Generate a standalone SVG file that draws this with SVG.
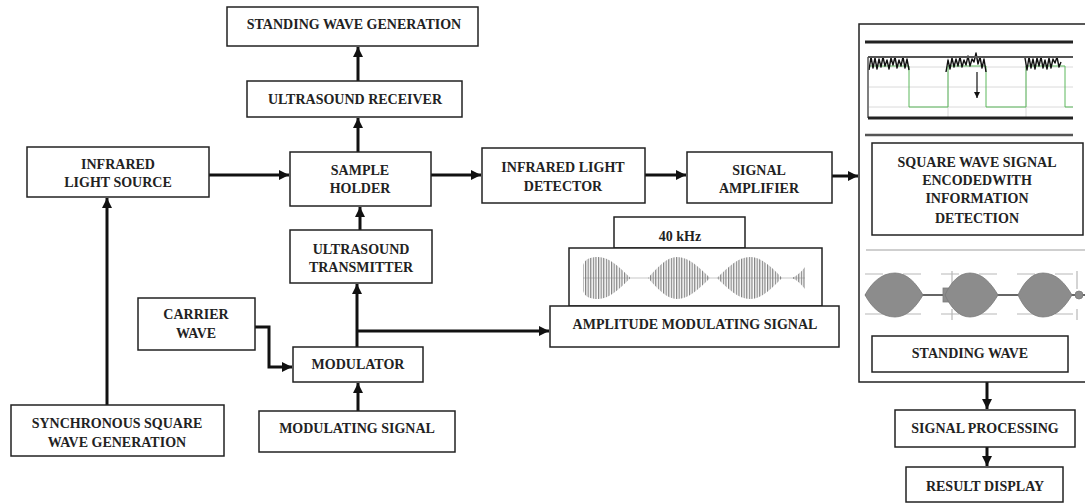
<svg xmlns="http://www.w3.org/2000/svg" width="1085" height="503" viewBox="0 0 1085 503">
<defs>
<style>
.box{fill:#fff;stroke:#222;stroke-width:1.5}
.t{font-family:"Liberation Serif","Times New Roman",serif;font-weight:bold;font-size:14px;fill:#222;text-anchor:middle}
.c{fill:none;stroke:#111;stroke-width:3}
.grid{stroke:#d0d0d0;stroke-width:0.8;fill:none}
.dash{stroke:#b8b8b8;stroke-width:1.2;fill:none;stroke-dasharray:18 20}
.noise{fill:none;stroke:#111;stroke-width:1.4;stroke-linejoin:round}
</style>
<marker id="ah" viewBox="0 0 10 10" refX="10" refY="5" markerWidth="11" markerHeight="10" markerUnits="userSpaceOnUse" orient="auto">
<path d="M0,0 L10,5 L0,10 z" fill="#111"/>
</marker>
<marker id="ahs" viewBox="0 0 10 10" refX="10" refY="5" markerWidth="6" markerHeight="6" markerUnits="userSpaceOnUse" orient="auto">
<path d="M0,0 L10,5 L0,10 z" fill="#111"/>
</marker>
<pattern id="stripes" patternUnits="userSpaceOnUse" width="2.6" height="10">
<rect x="0" y="0" width="1.2" height="10" fill="#808080"/>
</pattern>
</defs>
<rect width="1085" height="503" fill="#fff"/>

<g id="connectors">
<path class="c" d="M209,175 H289" marker-end="url(#ah)"/>
<path class="c" d="M107,405 V198" marker-end="url(#ah)"/>
<path class="c" d="M358,152 V118" marker-end="url(#ah)"/>
<path class="c" d="M358,81 V47" marker-end="url(#ah)"/>
<path class="c" d="M360,230 V207" marker-end="url(#ah)"/>
<path class="c" d="M357,347 V284" marker-end="url(#ah)"/>
<path class="c" d="M357,331 H549" marker-end="url(#ah)"/>
<path class="c" d="M358,411 V383" marker-end="url(#ah)"/>
<path class="c" d="M255,327 H269 V367 H292" marker-end="url(#ah)"/>
<path class="c" d="M431,175 H481" marker-end="url(#ah)"/>
<path class="c" d="M645,175 H686" marker-end="url(#ah)"/>
<path class="c" d="M832,176 H858" marker-end="url(#ah)"/>
<path class="c" d="M987,382 V409" marker-end="url(#ah)"/>
<path class="c" d="M987,447 V466" marker-end="url(#ah)"/>
</g>

<g id="standing-wave-generation">
<rect class="box" x="227" y="7" width="251" height="39"/>
<text class="t" x="354" y="29">STANDING WAVE GENERATION</text>
</g>
<g id="ultrasound-receiver">
<rect class="box" x="247" y="81" width="215" height="36"/>
<text class="t" x="355" y="104">ULTRASOUND RECEIVER</text>
</g>
<g id="infrared-light-source">
<rect class="box" x="27" y="147" width="182" height="50"/>
<text class="t" x="118" y="168.5">INFRARED</text>
<text class="t" x="118" y="186.5">LIGHT SOURCE</text>
</g>
<g id="sample-holder">
<rect class="box" x="290" y="152" width="141" height="54"/>
<text class="t" x="360" y="174.5">SAMPLE</text>
<text class="t" x="360" y="192.5">HOLDER</text>
</g>
<g id="ultrasound-transmitter">
<rect class="box" x="290" y="230" width="142" height="53"/>
<text class="t" x="361" y="253.5">ULTRASOUND</text>
<text class="t" x="361" y="271.5">TRANSMITTER</text>
</g>
<g id="infrared-light-detector">
<rect class="box" x="482" y="148" width="163" height="55"/>
<text class="t" x="563" y="171.5">INFRARED LIGHT</text>
<text class="t" x="563" y="190.5">DETECTOR</text>
</g>
<g id="signal-amplifier">
<rect class="box" x="687" y="152" width="145" height="51"/>
<text class="t" x="759" y="174.5">SIGNAL</text>
<text class="t" x="759" y="192.5">AMPLIFIER</text>
</g>
<g id="carrier-wave">
<rect class="box" x="138" y="298" width="117" height="52"/>
<text class="t" x="196" y="318.5">CARRIER</text>
<text class="t" x="196" y="337.5">WAVE</text>
</g>
<g id="modulator">
<rect class="box" x="293" y="347" width="130" height="35"/>
<text class="t" x="358" y="368.5">MODULATOR</text>
</g>
<g id="modulating-signal">
<rect class="box" x="259" y="411" width="196" height="41"/>
<text class="t" x="357" y="432.5">MODULATING SIGNAL</text>
</g>
<g id="synchronous-square-wave-generation">
<rect class="box" x="11" y="405" width="213" height="51"/>
<text class="t" x="117" y="427.5">SYNCHRONOUS SQUARE</text>
<text class="t" x="117" y="446.5">WAVE GENERATION</text>
</g>

<g id="amplitude-modulating-signal">
<rect class="box" x="614" y="217" width="131" height="31"/>
<text class="t" x="680" y="240.5">40 kHz</text>
<rect class="box" x="569" y="248" width="253" height="58"/>
<line x1="583" y1="278" x2="805" y2="278" stroke="#b0b0b0" stroke-width="0.7"/>
<g fill="url(#stripes)">
<path d="M583,265 C585,259 590,257 598,257 C609.4,257 619.6,267.3 630,277.5 L630,278.5 C619.6,288.7 609.4,299 598,299 C590,299 585,297 583,291 Z"/>
<path d="M648,278 C657.4,267.3 666.7,257 677,257 C688.8,257 699.2,267.3 710,278 C699.2,288.7 688.8,299 677,299 C666.7,299 657.4,288.7 648,278 Z"/>
<path d="M717,278 C727.8,267.3 738.2,257 750,257 C761.4,257 771.6,267.3 782,278 C771.6,288.7 761.4,299 750,299 C738.2,299 727.8,288.7 717,278 Z"/>
<path d="M792,278 C797,276 802,271 805,267 L805,289 C802,285 797,280 792,278 Z"/>
</g>
<rect class="box" x="550" y="306" width="289" height="41"/>
<text class="t" x="695" y="328.5">AMPLITUDE MODULATING SIGNAL</text>
</g>

<g id="detection-panel">
<rect class="box" x="859" y="24" width="240" height="358"/>
<line x1="865" y1="42" x2="1073" y2="42" stroke="#222" stroke-width="3"/>
<g id="chart">
<path class="grid" d="M869,67 H1073 M869,87 H1073 M869,107 H1073 M948,57 V118 M1026,57 V118"/>
<path d="M869,66 H909 V107 H948 V66 H986 V107 H1026 V66 H1065 V107 H1073" fill="none" stroke="#5cb85c" stroke-width="1"/>
<polyline class="noise" points="869,70 871,57 873,68 875,58 877,69 879,59 881,67 883,57 885,66 887,60 889,69 891,58 893,65 895,57 897,68 899,60 901,66 903,57 905,68 907,59 909,70"/>
<polyline class="noise" points="946,72 948,60 950,69 952,58 954,67 956,59 958,66 960,57 962,67 964,60 966,65 968,56 970,66 972,59 974,62 976,53 978,64 980,57 982,68 984,59 986,72"/>
<polyline class="noise" points="1025,58 1027,70 1029,57 1031,68 1033,59 1035,69 1037,58 1039,66 1041,57 1043,68 1045,60 1047,69 1049,58 1051,68 1053,59 1055,63 1057,57 1059,67 1061,62"/>
<line x1="977" y1="72" x2="977" y2="98" stroke="#111" stroke-width="1.2" marker-end="url(#ahs)"/>
<line x1="868" y1="57" x2="1073" y2="57" stroke="#555" stroke-width="2"/>
<line x1="868" y1="57" x2="868" y2="118" stroke="#555" stroke-width="1.5"/>
<line x1="868" y1="118" x2="1073" y2="118" stroke="#222" stroke-width="3"/>
<line x1="865" y1="135" x2="1073" y2="135" stroke="#555" stroke-width="2.5"/>
</g>
<g id="square-wave-signal">
<rect class="box" x="872" y="143" width="211" height="92"/>
<text class="t" x="977" y="166.5">SQUARE WAVE SIGNAL</text>
<text class="t" x="977" y="184.5">ENCODEDWITH</text>
<text class="t" x="977" y="202.5">INFORMATION</text>
<text class="t" x="977" y="222.5">DETECTION</text>
</g>
<line x1="866" y1="250" x2="1085" y2="250" stroke="#cfcfcf" stroke-width="2"/>
<g id="standing-wave-plot">
<path class="dash" d="M865,274 H1085 M865,314 H1085 M952,271 V320 M1077,271 V320"/>
<line x1="865" y1="295" x2="1085" y2="295" stroke="#333" stroke-width="1.5"/>
<g fill="#8c8c8c" stroke="#7a7a7a" stroke-width="0.8">
<path d="M865,295 C872,282 882,273 895,273 C907,273 916,283 923,295 C916,307 907,317 895,317 C882,317 872,308 865,295 Z"/>
<rect x="943" y="288" width="10" height="14"/>
<path d="M945,295 C951,282 959,273 970,273 C982,273 991,283 998,295 C991,307 982,317 970,317 C959,317 951,308 945,295 Z"/>
<path d="M1018,295 C1024,282 1032,273 1043,273 C1056,273 1065,283 1072,295 C1065,307 1056,317 1043,317 C1032,317 1024,308 1018,295 Z"/>
<ellipse cx="1079" cy="295" rx="4" ry="4"/>
</g>
</g>
<g id="standing-wave">
<rect class="box" x="872" y="336" width="196" height="36"/>
<text class="t" x="970" y="357.5">STANDING WAVE</text>
</g>
</g>

<g id="signal-processing">
<rect class="box" x="895" y="410" width="180" height="37"/>
<text class="t" x="985" y="432.5">SIGNAL PROCESSING</text>
</g>
<g id="result-display">
<rect class="box" x="906" y="467" width="157" height="35"/>
<text class="t" x="985" y="490.5">RESULT DISPLAY</text>
</g>
</svg>
